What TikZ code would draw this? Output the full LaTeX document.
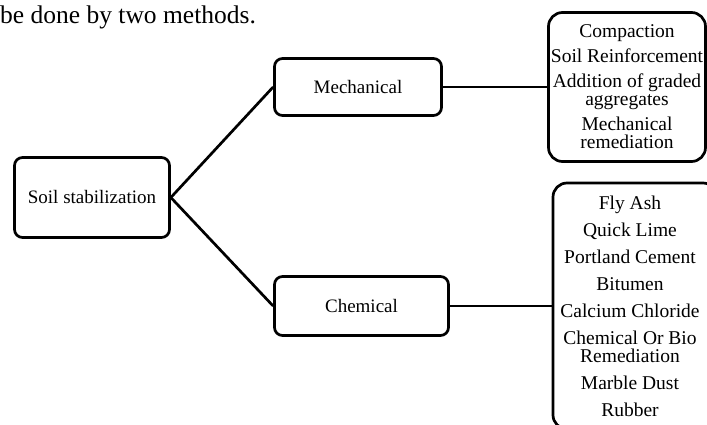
\documentclass[tikz,border=0pt]{standalone}
\usepackage{fontspec}
\setmainfont{Liberation Serif}
\begin{document}
\begin{tikzpicture}[x=1pt,y=-1pt,
  box/.style={draw, line width=2.7pt, rounded corners=8pt, inner sep=0pt, align=center,
    font=\fontsize{19}{21}\selectfont},
  listbox/.style={draw, line width=2.7pt, rounded corners=14pt, inner sep=0pt},
  items/.style={inner sep=0pt, align=center, font=\fontsize{19.5}{18}\selectfont},
  conn/.style={line width=2.7pt}]
\useasboundingbox (0,0) rectangle (707,425);
\node[anchor=base west, inner sep=0pt, font=\fontsize{25.5}{30}\selectfont] (head) at (0,24) {be done by two methods.};
\node[box, minimum width=155pt, minimum height=80pt] (soil) at (92,197.5) {Soil stabilization};
\node[box, minimum width=167pt, minimum height=57pt] (mech) at (358,87) {Mechanical};
\node[box, minimum width=174pt, minimum height=59pt] (chem) at (361.5,306) {Chemical};
\node[listbox, minimum width=157pt, minimum height=149pt] (mechlist) at (627,87) {};
\node[items] (mechitems) at (627,87)
  {Compaction\\[7pt] Soil Reinforcement\\[7pt] Addition of graded\\ aggregates\\[7pt] Mechanical\\ remediation};
\node[listbox, minimum width=164pt, minimum height=246pt] (chemlist) at (635,306) {};
\node[items] (chemitems) at (630,306)
  {Fly Ash\\[9pt] Quick Lime\\[9pt] Portland Cement\\[9pt] Bitumen\\[9pt] Calcium Chloride\\[9pt] Chemical Or Bio\\ Remediation\\[9pt] Marble Dust\\[9pt] Rubber};
\draw[conn] (soil.east) -- (mech.west);
\draw[conn] (soil.east) -- (chem.west);
\draw[conn] (mech.east) -- (mechlist.west);
\draw[conn] (chem.east) -- (chemlist.west);
\end{tikzpicture}
\end{document}
